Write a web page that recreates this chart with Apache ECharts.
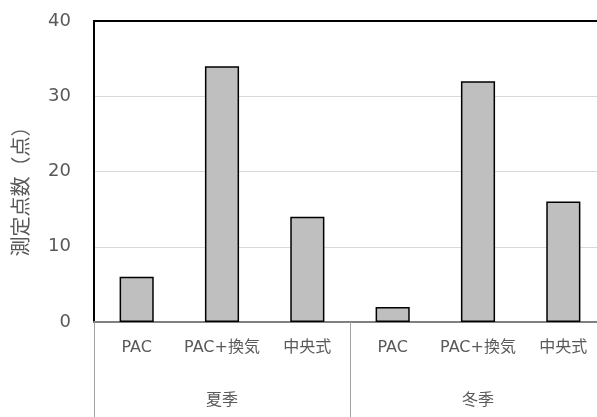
<!DOCTYPE html>
<html>
<head>
<meta charset="utf-8">
<script src="https://cdn.jsdelivr.net/npm/echarts@6/dist/echarts.min.js"></script>
<style>html,body{margin:0;padding:0;background:#fff;}#c{width:597px;height:417px;}</style>
</head>
<body>
<div id="c"></div>
<script>
const categories = ['PAC', 'PAC+換気', '中央式', 'PAC', 'PAC+換気', '中央式'];
const seasons = ['夏季', '冬季'];
const values = [6, 34, 14, 2, 32, 16];
const yTicks = { min: 0, max: 40, interval: 10 };
const yName = '測定点数（点）';

const FONT = '"DejaVu Sans", "Noto Sans CJK JP", sans-serif';
const chart = echarts.init(document.getElementById('c'));
chart.setOption({
  animation: false,
  backgroundColor: '#fff',
  grid: { left: 94, top: 21, width: 512, height: 301, containLabel: false, outerBoundsMode: 'none' },
  xAxis: [
    {
      type: 'category', data: categories, position: 'bottom',
      axisLine: { show: true, lineStyle: { color: '#808080', width: 2 } },
      axisTick: { show: false },
      axisLabel: { color: '#595959', fontSize: 16, fontFamily: FONT, margin: 18, interval: 0 }
    },
    {
      type: 'category', data: seasons, position: 'bottom',
      axisLine: { show: false },
      axisTick: { show: true, length: 95, interval: 0, lineStyle: { color: '#a0a0a0', width: 1 } },
      axisLabel: { color: '#595959', fontSize: 16, fontFamily: FONT, margin: 71, interval: 0 }
    },
    {
      type: 'category', data: categories, position: 'top',
      axisLine: { show: true, lineStyle: { color: '#000', width: 2 } },
      axisTick: { show: false }, axisLabel: { show: false }
    }
  ],
  yAxis: {
    type: 'value', min: yTicks.min, max: yTicks.max, interval: yTicks.interval,
    name: yName, nameLocation: 'middle', nameGap: 61,
    nameTextStyle: { color: '#595959', fontSize: 20, fontFamily: FONT, padding: [0, 30, 0, 0] },
    axisLine: { show: true, lineStyle: { color: '#000', width: 2 } },
    axisTick: { show: false },
    axisLabel: { color: '#595959', fontSize: 18, fontFamily: FONT, margin: 23 },
    splitLine: { show: true, lineStyle: { color: '#d9d9d9', width: 1 } }
  },
  series: [{
    type: 'bar', xAxisIndex: 0, data: values, barWidth: '40%',
    itemStyle: { color: '#bfbfbf', borderColor: '#000', borderWidth: 1.5 }
  }]
});
</script>
</body>
</html>
